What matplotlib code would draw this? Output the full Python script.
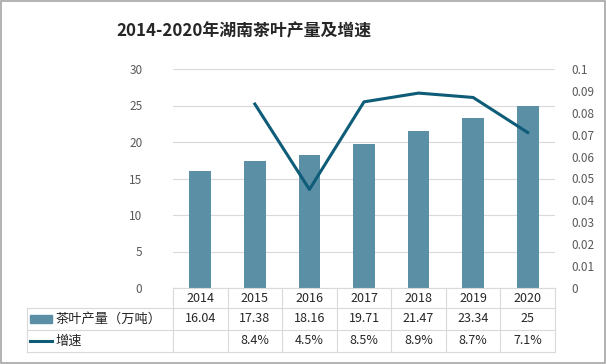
import matplotlib.pyplot as plt
import matplotlib.transforms as mtransforms
from matplotlib.patches import Rectangle
from matplotlib.lines import Line2D

plt.rcParams['font.family'] = ['Noto Sans CJK SC', 'DejaVu Sans']

years = ['2014', '2015', '2016', '2017', '2018', '2019', '2020']
output = [16.04, 17.38, 18.16, 19.71, 21.47, 23.34, 25]
growth = [None, 0.084, 0.045, 0.085, 0.089, 0.087, 0.071]
output_labels = ['16.04', '17.38', '18.16', '19.71', '21.47', '23.34', '25']
growth_labels = ['', '8.4%', '4.5%', '8.5%', '8.9%', '8.7%', '7.1%']

bar_color = '#5b8fa6'
line_color = '#0e5c78'
grid_color = '#d9d9d9'
tick_color = '#595959'

fig = plt.figure(figsize=(6.06, 3.64), dpi=100)
ax = fig.add_axes([173 / 606, 1 - 288 / 364, 382 / 606, 219 / 364])
ax2 = ax.twinx()

x = list(range(len(years)))
ax.bar(x, output, width=0.4, color=bar_color, zorder=2)
ax.set_ylim(0, 30)
ax.set_xlim(-0.5, len(years) - 0.5)
ax.set_yticks(range(0, 31, 5))
ax.grid(axis='y', color=grid_color, linewidth=0.8, zorder=0)
ax.set_xticks([])

gx = [i for i, g in zip(x, growth) if g is not None]
gy = [g for g in growth if g is not None]
ax2.plot(gx, gy, color=line_color, linewidth=2.2, zorder=3)
ax2.set_ylim(0, 0.1)
ax2.set_yticks([i / 100 for i in range(11)])
ax2.set_yticklabels(['0'] + ['0.%02d' % i for i in range(1, 10)] + ['0.1'])

for a in (ax, ax2):
    for s in a.spines.values():
        s.set_visible(False)
    a.tick_params(length=0, labelsize=8.5, labelcolor=tick_color)
ax.tick_params(axis='y', pad=22)
ax2.tick_params(axis='y', pad=12)

# data table below the plot
trans = mtransforms.blended_transform_factory(ax.transData, ax.transAxes)
rows = [0.0, -20 / 219, -42 / 219, -64 / 219]
header_left = (27 - 173) / 382
left_x = -0.5
for i in range(len(years) + 1):
    ax.plot([i - 0.5, i - 0.5], [rows[0], rows[3]], transform=trans,
            color=grid_color, linewidth=0.8, clip_on=False)
ax.plot([left_x, len(years) - 0.5], [rows[0], rows[0]], transform=trans,
        color=grid_color, linewidth=0.8, clip_on=False)
for r in rows[1:]:
    ax.plot([header_left, 1], [r, r], transform=ax.transAxes,
            color=grid_color, linewidth=0.8, clip_on=False)
ax.plot([header_left, header_left], [rows[1], rows[3]], transform=ax.transAxes,
        color=grid_color, linewidth=0.8, clip_on=False)

for i, yr in enumerate(years):
    ymid = (rows[0] + rows[1]) / 2
    ax.text(i, ymid, yr, transform=trans, ha='center', va='center',
            fontsize=9, color='#262626')
    ax.text(i, (rows[1] + rows[2]) / 2, output_labels[i], transform=trans,
            ha='center', va='center', fontsize=9, color='#262626')
    ax.text(i, (rows[2] + rows[3]) / 2, growth_labels[i], transform=trans,
            ha='center', va='center', fontsize=9, color='#262626')

# row headers with legend keys
key_x0 = (30 - 173) / 382
key_x1 = (52 - 173) / 382
r1 = (rows[1] + rows[2]) / 2
r2 = (rows[2] + rows[3]) / 2
ax.add_patch(Rectangle((key_x0, r1 - 0.018), key_x1 - key_x0, 0.036,
                       transform=ax.transAxes, color=bar_color, clip_on=False))
ax.add_line(Line2D([key_x0, key_x1], [r2, r2], transform=ax.transAxes,
                   color=line_color, linewidth=2.2, clip_on=False))
ax.text(key_x1 + 0.01, r1, '茶叶产量（万吨）', transform=ax.transAxes,
        ha='left', va='center', fontsize=9.5, color='#262626')
ax.text(key_x1 + 0.01, r2, '增速', transform=ax.transAxes,
        ha='left', va='center', fontsize=9.5, color='#262626')

fig.text(244 / 606, 1 - 31 / 364, '2014-2020年湖南茶叶产量及增速',
         ha='center', va='center', fontsize=12.2, fontweight='bold',
         color='#262626')

fig.add_artist(Rectangle((0.001, 0.002), 0.997, 0.995, transform=fig.transFigure,
                         fill=False, edgecolor='#a6a6a6', linewidth=1.2))

fig.savefig('out.png', dpi=100)
